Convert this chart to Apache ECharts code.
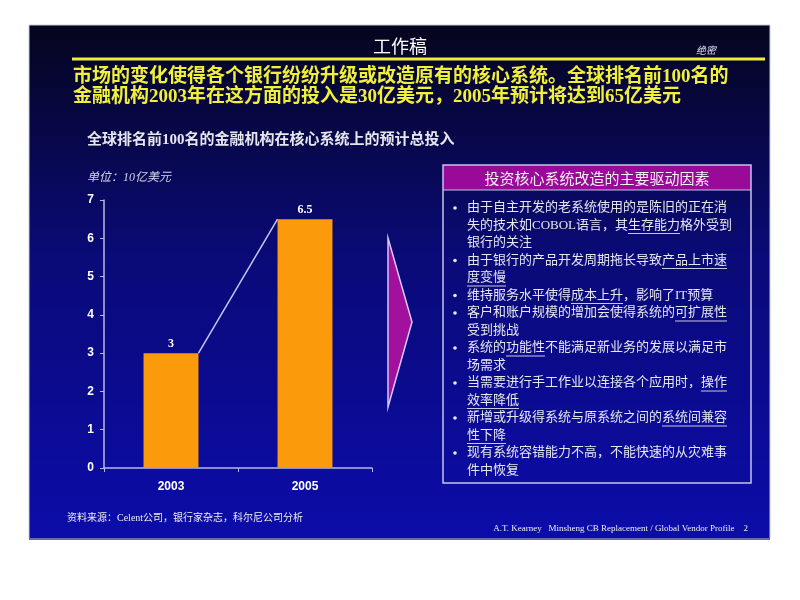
<!DOCTYPE html>
<html>
<head>
<meta charset="utf-8">
<script src="https://cdn.jsdelivr.net/npm/echarts@6/dist/echarts.min.js"></script>
<style>
html,body{margin:0;padding:0;background:#ffffff;}
#main{width:800px;height:600px;}
</style>
</head>
<body>
<div id="main"></div>
<script>
// ---- data ----
const categories = ['2003', '2005'];
const investment = [3, 6.5];
const yMin = 0, yMax = 7, yStep = 1;

const slideTitle = '工作稿';
const confidential = '绝密';
const headlineLines = [
  '市场的变化使得各个银行纷纷升级或改造原有的核心系统。全球排名前100名的',
  '金融机构2003年在这方面的投入是30亿美元，2005年预计将达到65亿美元'
];
const chartTitle = '全球排名前100名的金融机构在核心系统上的预计总投入';
const unitText = '单位：10亿美元';
const panelTitle = '投资核心系统改造的主要驱动因素';
// each line: [isBulletStart, segments[[text, underlined]]]
const driverLines = [
  [true,  [['由于自主开发的老系统使用的是陈旧的正在消', false]]],
  [false, [['失的技术如COBOL语言，其', false], ['生存能力', true], ['格外受到', false]]],
  [false, [['银行的关注', false]]],
  [true,  [['由于银行的产品开发周期拖长导致', false], ['产品上市速', true]]],
  [false, [['度变慢', true]]],
  [true,  [['维持服务水平使得', false], ['成本上升', true], ['，影响了IT预算', false]]],
  [true,  [['客户和账户规模的增加会使得系统的', false], ['可扩展性', true]]],
  [false, [['受到挑战', false]]],
  [true,  [['系统的', false], ['功能性', true], ['不能满足新业务的发展以满足市', false]]],
  [false, [['场需求', false]]],
  [true,  [['当需要进行手工作业以连接各个应用时，', false], ['操作', true]]],
  [false, [['效率降低', true]]],
  [true,  [['新增或升级得系统与原系统之间的', false], ['系统间兼容', true]]],
  [false, [['性下降', true]]],
  [true,  [['现有系统容错能力不高，不能快速的从灾难事', false]]],
  [false, [['件中恢复', false]]]
];
const sourceText = '资料来源：Celent公司，银行家杂志，科尔尼公司分析';
const footerText = 'A.T. Kearney   Minsheng CB Replacement / Global Vendor Profile    2';

// ---- build ----
const chart = echarts.init(document.getElementById('main'), null, {renderer: 'canvas'});

const SERIF_CJK = "'Liberation Serif', 'Noto Sans CJK SC'";

const measureCtx = document.createElement('canvas').getContext('2d');
function textWidth(t, font) { measureCtx.font = font; return measureCtx.measureText(t).width; }

const graphics = [];
// slide background
graphics.push({
  type: 'rect', z: -20, silent: true,
  shape: {x: 29, y: 25, width: 741, height: 514},
  style: {
    fill: new echarts.graphic.LinearGradient(0, 0, 0, 1, [
      {offset: 0, color: '#05051e'},
      {offset: 0.45, color: '#0a0a78'},
      {offset: 1, color: '#0c0caa'}
    ]),
    stroke: '#c8c8d8', lineWidth: 1
  }
});
graphics.push({type: 'line', z: -5, shape: {x1: 29, y1: 539, x2: 770, y2: 539}, style: {stroke: '#6a6aa8', lineWidth: 2}});

// title area
graphics.push({type: 'text', x: 400, y: 46, style: {text: slideTitle, fill: '#ffffff', font: "18px 'Noto Sans CJK SC'", align: 'center', verticalAlign: 'middle'}});
graphics.push({type: 'text', x: 706, y: 50, style: {text: confidential, fill: '#e0e0f0', font: "italic 10px 'Noto Sans CJK SC'", align: 'center', verticalAlign: 'middle'}});
graphics.push({type: 'line', shape: {x1: 72, y1: 59, x2: 765, y2: 59}, style: {stroke: '#eeee3a', lineWidth: 3}});
headlineLines.forEach((t, i) => {
  graphics.push({type: 'text', x: 73, y: 77 + i * 20, style: {text: t, fill: '#f0f03c', font: "bold 19px " + SERIF_CJK, align: 'left', verticalAlign: 'middle'}});
});

// chart titles
graphics.push({type: 'text', x: 87, y: 140, style: {text: chartTitle, fill: '#e6e6ee', font: "bold 15px " + SERIF_CJK, align: 'left', verticalAlign: 'middle'}});
graphics.push({type: 'text', x: 87, y: 178, style: {text: unitText, fill: '#d4d4e4', font: "italic 12px " + SERIF_CJK, align: 'left', verticalAlign: 'middle'}});

// arrow
graphics.push({type: 'polygon', shape: {points: [[388, 238], [412, 322], [388, 407]]}, style: {fill: '#a1119e', stroke: '#d6c8f2', lineWidth: 1.5}});

// panel
graphics.push({type: 'rect', shape: {x: 443, y: 165, width: 308, height: 25}, style: {fill: '#990a98'}});
graphics.push({type: 'rect', shape: {x: 443, y: 165, width: 308, height: 318}, style: {fill: 'none', stroke: '#c4c4ea', lineWidth: 1.5}});
graphics.push({type: 'line', shape: {x1: 443, y1: 190, x2: 751, y2: 190}, style: {stroke: '#c4c4ea', lineWidth: 1}});
graphics.push({type: 'text', x: 597, y: 178, style: {text: panelTitle, fill: '#f4f0f6', font: "15px 'Noto Sans CJK SC'", align: 'center', verticalAlign: 'middle'}});

const bulletFont = "13px " + SERIF_CJK;
driverLines.forEach((ln, i) => {
  const y = 208 + i * 17.5;
  if (ln[0]) {
    graphics.push({type: 'circle', shape: {cx: 455, cy: y, r: 1.8}, style: {fill: '#e8e8f4'}});
  }
  let x = 467;
  ln[1].forEach(seg => {
    const w = textWidth(seg[0], bulletFont);
    graphics.push({type: 'text', x: x, y: y, style: {text: seg[0], fill: '#e6e6f0', font: bulletFont, align: 'left', verticalAlign: 'middle'}});
    if (seg[1]) {
      graphics.push({type: 'line', shape: {x1: x, y1: y + 8, x2: x + w, y2: y + 8}, style: {stroke: '#c8c8e0', lineWidth: 1}});
    }
    x += w;
  });
});

// footer
graphics.push({type: 'text', x: 67, y: 518, style: {text: sourceText, fill: '#eeeeee', font: "10px " + SERIF_CJK, align: 'left', verticalAlign: 'middle'}});
graphics.push({type: 'text', x: 748, y: 529, style: {text: footerText, fill: '#eeeeee', font: "9px 'Liberation Serif'", align: 'right', verticalAlign: 'middle'}});

const axisColor = '#b8b8e4';
const option = {
  animation: false,
  backgroundColor: 'transparent',
  grid: {left: 104, right: 428, top: 200, bottom: 132, containLabel: false},
  xAxis: {
    type: 'category', data: categories, boundaryGap: true,
    axisLine: {lineStyle: {color: axisColor, width: 1.5}},
    axisTick: {show: true, alignWithLabel: false, length: 4, lineStyle: {color: axisColor}},
    axisLabel: {color: '#ffffff', fontFamily: 'Liberation Sans', fontWeight: 'bold', fontSize: 12, margin: 13}
  },
  yAxis: {
    type: 'value', min: yMin, max: yMax, interval: yStep,
    splitLine: {show: false},
    axisLine: {show: true, lineStyle: {color: axisColor, width: 1.5}},
    axisTick: {show: true, length: 4, lineStyle: {color: axisColor}},
    axisLabel: {color: '#ffffff', fontFamily: 'Liberation Sans', fontWeight: 'bold', fontSize: 12, margin: 10}
  },
  series: [
    {
      type: 'bar', data: investment, barWidth: '41%',
      itemStyle: {color: '#fb9a0a'},
      label: {show: true, position: 'top', distance: 3, color: '#ffffff', fontFamily: 'Liberation Serif', fontWeight: 'bold', fontSize: 12}
    },
    {
      type: 'custom', z: 3, silent: true,
      data: [[0, investment[0], 1, investment[1]]],
      renderItem: function (params, api) {
        const a = api.coord([api.value(0), api.value(1)]);
        const b = api.coord([api.value(2), api.value(3)]);
        const half = api.size([1, 0])[0] * 0.41 / 2;
        return {
          type: 'line',
          shape: {x1: a[0] + half, y1: a[1], x2: b[0] - half, y2: b[1]},
          style: {stroke: '#c6c6ee', lineWidth: 1.5}
        };
      }
    }
  ],
  graphic: graphics
};
chart.setOption(option);
</script>
</body>
</html>
